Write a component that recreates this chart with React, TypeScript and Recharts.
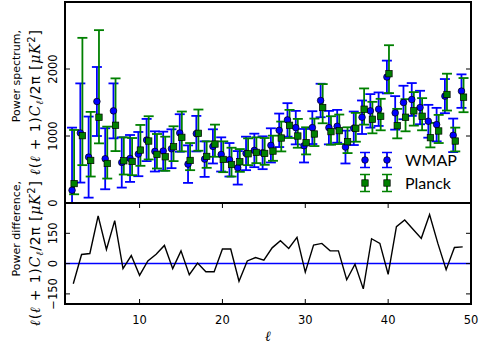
import React from "react";
import {
  ScatterChart, Scatter, LineChart, Line, XAxis, YAxis, ErrorBar, ReferenceLine, Legend,
} from "recharts";

// multipoles
const ells = [2, 3, 4, 5, 6, 7, 8, 9, 10, 11, 12, 13, 14, 15, 16, 17, 18, 19, 20, 21, 22, 23, 24, 25,
  26, 27, 28, 29, 30, 31, 32, 33, 34, 35, 36, 37, 38, 39, 40, 41, 42, 43, 44, 45, 46, 47, 48, 49];

const wmap = [190, 1045, 685, 1515, 660, 1375, 605, 665, 730, 940, 770, 775, 810, 1045, 580, 1035, 655, 845,
  725, 645, 525, 740, 785, 750, 860, 1085, 1240, 1125, 855, 1125, 1530, 1125, 1145, 835, 1115, 1280, 1375,
  1400, 1880, 1345, 1500, 1545, 1425, 1220, 1170, 1595, 1010, 1670];
const wmapErr = [935, 740, 605, 515, 455, 410, 375, 350, 330, 315, 300, 290, 290, 280, 280, 265, 265, 255,
  255, 250, 250, 250, 250, 245, 255, 250, 250, 250, 250, 245, 250, 250, 245, 245, 250, 250, 250, 250, 245,
  250, 250, 245, 250, 245, 250, 255, 250, 250];

const planck = [290, 1005, 635, 1280, 590, 1160, 630, 620, 790, 925, 725, 690, 840, 980, 635, 1040, 695, 880,
  650, 575, 615, 735, 755, 740, 775, 970, 1160, 1000, 900, 1030, 1425, 1065, 1080, 915, 1115, 1400, 1250,
  1295, 1930, 1155, 1280, 1375, 1295, 975, 1075, 1620, 925, 1580];
const planckLo = [160, 440, 240, 390, 225, 385, 205, 205, 235, 275, 210, 210, 215, 210, 145, 260, 170, 190,
  190, 180, 150, 170, 160, 170, 145, 200, 190, 175, 175, 180, 235, 195, 200, 170, 200, 230, 210, 210, 290,
  190, 210, 220, 210, 145, 180, 240, 155, 225];
const planckHi = [800, 1460, 725, 1300, 550, 700, 350, 350, 375, 370, 305, 300, 305, 385, 260, 355, 225, 290,
  270, 250, 190, 230, 225, 230, 230, 245, 230, 255, 230, 230, 350, 230, 240, 215, 230, 310, 260, 260, 425,
  250, 270, 280, 270, 220, 240, 310, 200, 285];

// WMAP - Planck
const powerDiff = [-100, 45, 50, 236, 70, 213, -25, 40, -58, 13, 46, 90, -25, 63, -55, 3, -40, -40, 72, 72,
  -87, 13, 30, 17, 78, 113, 75, 130, -42, 92, 100, 63, 63, -80, -3, -125, 123, 100, -53, 183, 216, 170, 125,
  243, 100, -30, 80, 83];

const ellTicks = [10, 20, 30, 40, 50];
const spectrumTicks = [0, 1000, 2000, 3000];
const diffTicks = [-150, 0, 150];

const BLUE = "#0000ff";
const GREEN = "#008000";
const FONT = "DejaVu Sans, sans-serif";
const TICK_FS = 11.5;

// plot frame (page coords)
const PL = 65;
const PR = 471;
const TOP = 2;
const MID = 203;
const BOT = 304;
const TL = 5;

const wmapData = ells.map((l, i) => ({ x: l - 0.15, y: wmap[i], err: wmapErr[i] }));
const planckData = ells.map((l, i) => ({ x: l + 0.1, y: planck[i], err: [planckLo[i], planckHi[i]] }));
const diffData = ells.map((l, i) => ({ ell: l, d: powerDiff[i] }));

const fmt = (v: number) => (v < 0 ? `\u2212${-v}` : `${v}`);

function SpecXTick({ x }: any) {
  return (
    <g>
      <line x1={x} x2={x} y1={TOP} y2={TOP + TL} stroke="#000" />
      <line x1={x} x2={x} y1={MID} y2={MID - TL} stroke="#000" />
    </g>
  );
}

function DiffXTick({ x, payload }: any) {
  return (
    <g>
      <line x1={x} x2={x} y1={MID} y2={MID + TL} stroke="#000" />
      <line x1={x} x2={x} y1={BOT} y2={BOT - TL} stroke="#000" />
      <text x={x} y={BOT + 20} textAnchor="middle" fontSize={TICK_FS} fontFamily={FONT} fill="#000">
        {payload.value}
      </text>
    </g>
  );
}

const YTick = ({ y, payload }: any) => (
  <g>
    <line x1={PL} x2={PL + TL} y1={y} y2={y} stroke="#000" />
    <line x1={PR} x2={PR - TL} y1={y} y2={y} stroke="#000" />
    <text transform={`translate(${PL - 8},${y}) rotate(-90)`} textAnchor="middle"
      fontSize={TICK_FS} fontFamily={FONT} fill="#000">
      {payload.value === 3000 ? "" : fmt(payload.value)}
    </text>
  </g>
);

const WmapDot = ({ cx, cy }: any) => (
  <circle cx={cx} cy={cy} r={3.3} fill={BLUE} stroke="#000" strokeWidth={0.7} />
);
const PlanckDot = ({ cx, cy }: any) => (
  <rect x={cx - 3.2} y={cy - 3.2} width={6.4} height={6.4} fill={GREEN} stroke="#000" strokeWidth={0.7} />
);

function LegendBox() {
  const rows = [
    { name: "WMAP", color: BLUE, cy: 14, half: 7.5, square: false },
    { name: "Planck", color: GREEN, cy: 37, half: 8.5, square: true },
  ];
  return (
    <svg width={120} height={50} style={{ display: "block" }}>
      {rows.map((r) => (
        <g key={r.name}>
          {[10, 32].map((mx) => (
            <g key={mx}>
              <line x1={mx} x2={mx} y1={r.cy - r.half} y2={r.cy + r.half} stroke={r.color} strokeWidth={1.8} />
              <line x1={mx - 5} x2={mx + 5} y1={r.cy - r.half} y2={r.cy - r.half} stroke={r.color} strokeWidth={1.5} />
              <line x1={mx - 5} x2={mx + 5} y1={r.cy + r.half} y2={r.cy + r.half} stroke={r.color} strokeWidth={1.5} />
              {r.square
                ? <rect x={mx - 3.2} y={r.cy - 3.2} width={6.4} height={6.4} fill={r.color} stroke="#000" strokeWidth={0.7} />
                : <circle cx={mx} cy={r.cy} r={3.3} fill={r.color} stroke="#000" strokeWidth={0.7} />}
            </g>
          ))}
          <text x={50} y={r.cy + 6} fontFamily="Lato, sans-serif" fontSize={16} fill="#000">{r.name}</text>
        </g>
      ))}
    </svg>
  );
}

// two-line rotated y title, lines aligned at their top end, block centred on the panel
function YTitle({ first, center }: { first: string; center: number }) {
  const len = 145;
  const yEnd = center - len / 2;
  const it = { fontStyle: "italic" as const, fontFamily: "DejaVu Serif, serif" };
  return (
    <g fill="#000">
      <text transform={`translate(20,${yEnd}) rotate(-90)`} textAnchor="end" fontFamily={FONT} fontSize={11}>
        {first}
      </text>
      <text transform={`translate(40,${yEnd}) rotate(-90)`} textAnchor="end" fontFamily={FONT} fontSize={14}
        textLength={len} lengthAdjust="spacing">
        <tspan style={it}>ℓ</tspan>(<tspan style={it}>ℓ</tspan> + 1)<tspan style={it}>C</tspan>
        <tspan style={it} fontSize={10} dy={3}>ℓ</tspan>
        <tspan dy={-3}>/2π [</tspan><tspan style={it}>μK</tspan>
        <tspan fontSize={10} dy={-5}>2</tspan><tspan dy={5}>]</tspan>
      </text>
    </g>
  );
}

const abs = { position: "absolute" as const, left: 0, top: 0 };
const frame = (top: number, height: number) => ({
  position: "absolute" as const, left: PL - 1, top: top - 1, width: PR - PL + 2, height,
  border: "2px solid #000", boxSizing: "border-box" as const, pointerEvents: "none" as const,
});

export default function App() {
  return (
    <div style={{ position: "absolute", left: 0, top: 0, width: 480, height: 345, background: "#fff", overflow: "hidden" }}>
      <div style={abs}>
        <ScatterChart width={480} height={345} margin={{ top: TOP, right: 480 - PR, bottom: 345 - MID, left: 0 }}>
          <XAxis type="number" dataKey="x" domain={[1, 50]} ticks={ellTicks} interval={0} height={0}
            axisLine={false} tickLine={false} tick={<SpecXTick />} allowDataOverflow />
          <YAxis type="number" dataKey="y" domain={[0, 3000]} ticks={spectrumTicks} interval={0} width={PL}
            axisLine={false} tickLine={false} tick={<YTick />} allowDataOverflow />
          <Scatter data={wmapData} fill={BLUE} shape={<WmapDot />} isAnimationActive={false}>
            <ErrorBar dataKey="err" direction="y" width={5} stroke={BLUE} strokeWidth={1.8} />
          </Scatter>
          <Scatter data={planckData} fill={GREEN} shape={<PlanckDot />} isAnimationActive={false}>
            <ErrorBar dataKey="err" direction="y" width={5} stroke={GREEN} strokeWidth={1.8} />
          </Scatter>
          <Legend layout="vertical" align="center" verticalAlign="middle"
            wrapperStyle={{ left: 355, top: 146, width: 120, height: 50 }} content={() => <LegendBox />} />
        </ScatterChart>
      </div>
      {/* mask error bars running below the upper panel */}
      <div style={{ position: "absolute", left: PL, top: MID + 1, width: PR - PL, height: BOT - MID, background: "#fff" }} />
      <div style={abs}>
        <LineChart width={480} height={345} data={diffData}
          margin={{ top: MID, right: 480 - PR, bottom: 11, left: 0 }}>
          <XAxis type="number" dataKey="ell" domain={[1, 50]} ticks={ellTicks} interval={0} height={30}
            axisLine={false} tickLine={false} tick={<DiffXTick />}
            label={{ value: "ℓ", position: "bottom", offset: -3, fill: "#000",
              style: { fontStyle: "italic", fontSize: 14, fontFamily: "DejaVu Serif", fill: "#000" } }} />
          <YAxis type="number" domain={[-200, 300]} ticks={diffTicks} interval={0} width={PL}
            axisLine={false} tickLine={false} tick={<YTick />} allowDataOverflow />
          <ReferenceLine y={0} stroke={BLUE} strokeWidth={1.5} />
          <Line dataKey="d" type="linear" stroke="#000" strokeWidth={1.4} dot={false} isAnimationActive={false} />
        </LineChart>
      </div>
      <svg width={480} height={345} style={{ ...abs, pointerEvents: "none" }}>
        <YTitle first="Power spectrum," center={(TOP + MID) / 2} />
        <YTitle first="Power difference," center={(MID + BOT) / 2} />
      </svg>
      <div style={frame(TOP, MID - TOP + 2)} />
      <div style={frame(MID, BOT - MID + 2)} />
    </div>
  );
}
